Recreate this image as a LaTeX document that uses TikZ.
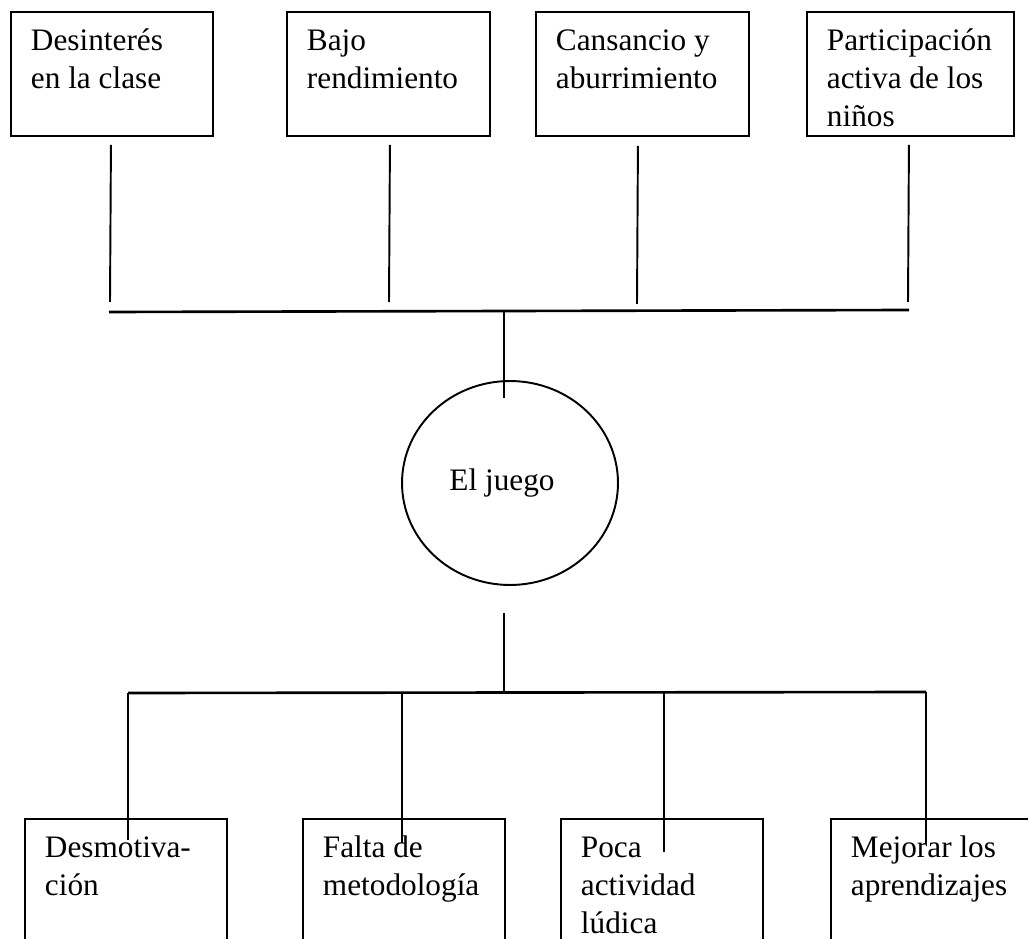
\documentclass[tikz,border=0pt]{standalone}
\usepackage{fontspec}
\setmainfont{Liberation Serif}
\usetikzlibrary{shapes.geometric}
\newcommand{\textocaja}[2][3.24cm]{\parbox[t][2.48cm][t]{#1}{\raggedright\rule{0pt}{0.78cm}#2}}
\begin{document}
\begin{tikzpicture}[x=0.02cm, y=-0.02cm,
  caja/.style={draw, line width=1.1pt, anchor=north west, inner xsep=0.4cm, inner ysep=0pt, font=\fontsize{17.8}{21.6}\selectfont},
  linea/.style={line width=1.1pt},
  barra/.style={line width=1.5pt}]

\useasboundingbox (0,0) rectangle (1028,939);
\fill[white] (0,0) rectangle (1028,939);
\clip (0,0) rectangle (1028,939);

%boxes on top
\node[caja] (d1) at (10,11) {\textocaja{Desinterés\\en la clase}};
\node[caja] (d2) at (286,11) {\textocaja[3.26cm]{Bajo\\rendimiento}};
\node[caja] (d3) at (535,11) {\textocaja[3.46cm]{Cansancio y\\aburrimiento}};
\node[caja] (d4) at (806,11) {\textocaja[3.34cm]{Participación\\activa de los\\niños}};

%circle in the middle
\node[ellipse, draw, line width=1.1pt, minimum width=4.32cm, minimum height=4.08cm, inner sep=0pt,
  font=\fontsize{17.8}{21.6}\selectfont] (juego) at (510,483) {El juego\hspace*{0.32cm}};

%boxes at the bottom
\node[caja] (b1) at (24,818) {\textocaja{Desmotiva-\\ción}};
\node[caja] (b2) at (302,818) {\textocaja{Falta de\\metodología}};
\node[caja] (b3) at (560,818) {\textocaja{Poca\\actividad\\lúdica}};
\node[caja] (b4) at (830,818) {\textocaja{Mejorar los\\aprendizajes}};

%ends of the upper lines
\coordinate (A) at (110,302);
\coordinate (B) at (389,302);
\coordinate (C) at (637,304);
\coordinate (D) at (908,302);
\coordinate (E) at (109,312); %left end of upper bar
\coordinate (F) at (909,310); %right end of upper bar
\coordinate (G) at (504,311);
\coordinate (H) at (504,398);

%ends of the lower lines
\coordinate (I) at (504,613);
\coordinate (J) at (504,691);
\coordinate (K) at (128,693); %left end of lower bar
\coordinate (L) at (926,692); %right end of lower bar
\coordinate (M) at (402,693);
\coordinate (N) at (664,693);
\coordinate (O) at (128,840);
\coordinate (P) at (402,843);
\coordinate (Q) at (664,852);
\coordinate (R) at (926,843);

%upper lines
\draw [linea] ([xshift=-0.02cm,yshift=-0.16cm]d1.south) -- (A);
\draw [linea] ([xshift=0.03cm,yshift=-0.16cm]d2.south) -- (B);
\draw [linea] ([xshift=-0.09cm,yshift=-0.18cm]d3.south) -- (C);
\draw [linea] ([xshift=-0.03cm,yshift=-0.16cm]d4.south) -- (D);
\draw [barra] (E) -- (F);
\draw [linea] (G) -- (H);

%lower lines
\draw [linea] (I) -- (J);
\draw [barra] (K) -- (L);
\draw [linea] (K) -- (O);
\draw [linea] (M) -- (P);
\draw [linea] (N) -- (Q);
\draw [linea] (L) -- (R);
\end{tikzpicture}
\end{document}
